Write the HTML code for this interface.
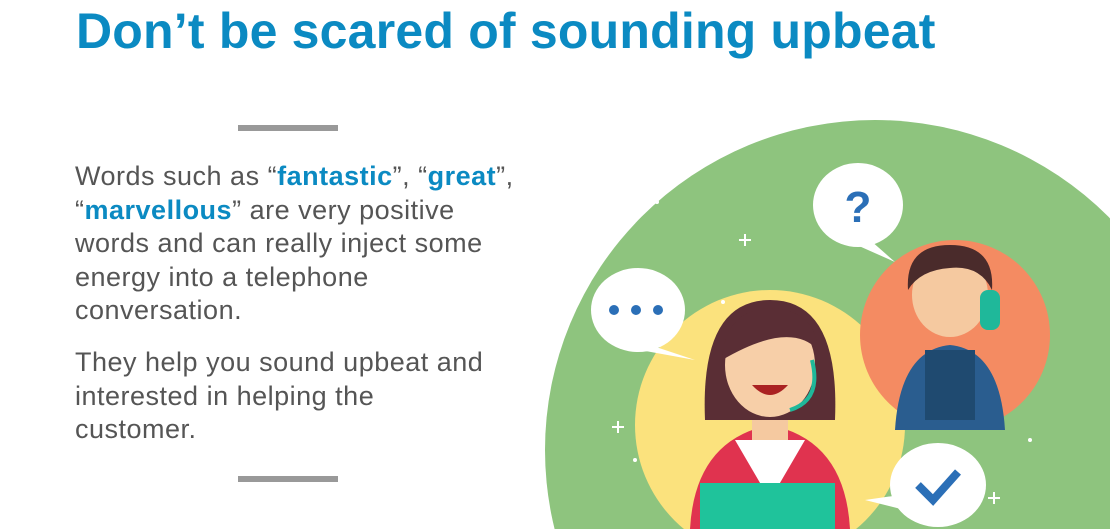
<!DOCTYPE html>
<html><head><meta charset="utf-8"><style>
body{margin:0;width:1110px;height:529px;overflow:hidden;background:#fff;font-family:"Liberation Sans",sans-serif;position:relative}
.t{position:absolute;left:76px;top:2px;font-size:50px;font-weight:bold;color:#0b8ac2;letter-spacing:0.2px;white-space:nowrap}
.bar{position:absolute;left:238px;width:100px;height:6px;background:#999}
.p{position:absolute;left:75px;width:520px;font-size:27px;line-height:33.5px;color:#555;letter-spacing:0.5px;white-space:nowrap}
.p b{color:#0b8ac2}
</style></head><body>
<div class="t">Don’t be scared of sounding upbeat</div>
<div class="bar" style="top:125px"></div>
<div class="p" style="top:160px">Words such as “<b>fantastic</b>”, “<b>great</b>”,<br>“<b>marvellous</b>” are very positive<br>words and can really inject some<br>energy into a telephone<br>conversation.</div>
<div class="p" style="top:346px">They help you sound upbeat and<br>interested in helping the<br>customer.</div>
<div class="bar" style="top:476px"></div>
<svg width="1110" height="529" viewBox="0 0 1110 529" style="position:absolute;left:0;top:0;overflow:hidden">
<circle cx="875" cy="450" r="330" fill="#8ec47e"/>
<circle cx="770" cy="425" r="135" fill="#fbe27d"/>
<circle cx="955" cy="335" r="95" fill="#f48b62"/>
<g><ellipse cx="858" cy="205" rx="45" ry="42" fill="#fff"/><polygon points="870,240 895,262 850,242" fill="#fff"/><text x="858" y="222" font-size="44" font-weight="bold" fill="#2b6fb7" text-anchor="middle">?</text></g>
<g><ellipse cx="638" cy="310" rx="47" ry="42" fill="#fff"/><polygon points="650,345 695,360 640,350" fill="#fff"/><circle cx="614" cy="310" r="5" fill="#2b6fb7"/><circle cx="636" cy="310" r="5" fill="#2b6fb7"/><circle cx="658" cy="310" r="5" fill="#2b6fb7"/></g>
<g><path d="M895,430 Q900,350 950,345 Q1000,350 1005,430 Z" fill="#2a5d8f"/><rect x="925" y="350" width="50" height="70" fill="#1f4a70"/><ellipse cx="950" cy="295" rx="38" ry="42" fill="#f5c9a0"/><path d="M908,290 Q905,245 950,245 Q995,245 992,290 Q980,265 950,268 Q920,270 908,290Z" fill="#4a2b2b"/><rect x="980" y="290" width="20" height="40" rx="8" fill="#1fb89a"/></g>
<g><path d="M690,529 Q695,440 770,425 Q845,440 850,529Z" fill="#e0334f"/><path d="M735,440 L770,500 L805,440Z" fill="#fff"/><rect x="752" y="400" width="36" height="40" fill="#f5c9a0"/><path d="M705,420 Q700,300 770,300 Q840,300 835,420 Z" fill="#5a2e35"/><ellipse cx="770" cy="365" rx="45" ry="52" fill="#f7cfa8"/><path d="M722,360 Q725,310 770,308 Q815,310 818,350 Q790,320 722,360Z" fill="#5a2e35"/><path d="M752,385 Q770,405 788,385Z" fill="#a22"/><path d="M812,360 Q822,400 790,410" fill="none" stroke="#1fb89a" stroke-width="4"/></g>
<rect x="700" y="483" width="135" height="46" fill="#1fc39b"/>
<g><ellipse cx="938" cy="485" rx="48" ry="42" fill="#fff"/><polygon points="900,495 865,500 905,510" fill="#fff"/><polyline points="918,485 933,500 958,472" fill="none" stroke="#2b6fb7" stroke-width="8"/></g>
<g fill="#fff"><rect x="744" y="234" width="2" height="12"/><rect x="739" y="239" width="12" height="2"/><rect x="617" y="421" width="2" height="12"/><rect x="612" y="426" width="12" height="2"/><rect x="993" y="492" width="2" height="12"/><rect x="988" y="497" width="12" height="2"/><circle cx="657" cy="202" r="2"/><circle cx="723" cy="302" r="2"/><circle cx="1030" cy="440" r="2"/><circle cx="635" cy="460" r="2"/></g>
</svg>
</body></html>
